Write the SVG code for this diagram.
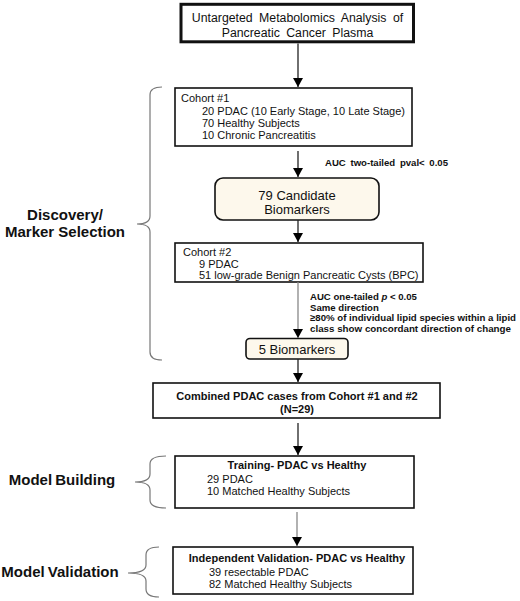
<svg xmlns="http://www.w3.org/2000/svg" width="520" height="601" viewBox="0 0 520 601">
<defs>
<marker id="ah" markerWidth="9" markerHeight="10" refX="9" refY="5" orient="auto" markerUnits="userSpaceOnUse">
<path d="M0,0 L9,5 L0,10 Z" fill="#000"/>
</marker>
<style>
text{font-family:"Liberation Sans",Arial,sans-serif;fill:#111}
.b{font-weight:bold}
.box{fill:#fff;stroke:#111;stroke-width:1.6}
.rbox{fill:#fdf8ec;stroke:#111;stroke-width:1.6}
.brace{fill:none;stroke:#777;stroke-width:1.2}
.con{stroke:#222;stroke-width:1.3;fill:none}
.gcon{stroke:#888;stroke-width:1.3;fill:none}
.t11{font-size:11px}
.lbl{font-size:15px;font-weight:bold;text-anchor:middle}
.crit{font-size:9.6px;font-weight:bold}
</style>
</defs>
<rect width="520" height="601" fill="#fff"/>

<g id="n-title">
<rect x="181" y="4.3" width="232.5" height="37.5" fill="#fff" stroke="#111" stroke-width="3"/>
<text x="297.5" y="22" font-size="12.3" text-anchor="middle" word-spacing="3">Untargeted Metabolomics Analysis of</text>
<text x="297.5" y="37" font-size="12.3" text-anchor="middle" word-spacing="3">Pancreatic Cancer Plasma</text>
</g>

<g id="n-cohort1">
<rect class="box" x="175" y="88" width="237" height="58"/>
<text class="t11" x="181" y="102">Cohort #1</text>
<text class="t11" x="202" y="115">20 PDAC (10 Early Stage, 10 Late Stage)</text>
<text class="t11" x="202" y="127">70 Healthy Subjects</text>
<text class="t11" x="202" y="139">10 Chronic Pancreatitis</text>
</g>

<g id="n-79">
<rect class="rbox" x="215" y="178" width="164" height="42" rx="8"/>
<text x="297" y="200" font-size="13" text-anchor="middle">79 Candidate</text>
<text x="297" y="214" font-size="13" text-anchor="middle">Biomarkers</text>
</g>

<g id="n-cohort2">
<rect class="box" x="175" y="243" width="248" height="39"/>
<text class="t11" x="183" y="256">Cohort #2</text>
<text class="t11" x="199" y="268">9 PDAC</text>
<text class="t11" x="199" y="279">51 low-grade Benign Pancreatic Cysts (BPC)</text>
</g>

<g id="n-5">
<rect class="rbox" x="246" y="338.5" width="102" height="20.5" rx="4"/>
<text x="297" y="354" font-size="13" text-anchor="middle">5 Biomarkers</text>
</g>

<g id="n-combined">
<rect class="box" x="153" y="383" width="287" height="35"/>
<text class="b" x="297" y="400" font-size="11" text-anchor="middle">Combined PDAC cases from Cohort #1 and #2</text>
<text class="b" x="297" y="413" font-size="11" text-anchor="middle">(N=29)</text>
</g>

<g id="n-training">
<rect class="box" x="175" y="456" width="239" height="52"/>
<text class="b" x="297" y="469" font-size="11" text-anchor="middle">Training- PDAC vs Healthy</text>
<text class="t11" x="207" y="483">29 PDAC</text>
<text class="t11" x="207" y="495">10 Matched Healthy Subjects</text>
</g>

<g id="n-validation">
<rect class="box" x="173" y="547" width="240" height="47"/>
<text class="b" x="297" y="562" font-size="11" text-anchor="middle">Independent Validation- PDAC vs Healthy</text>
<text class="t11" x="209" y="576">39 resectable PDAC</text>
<text class="t11" x="209" y="588">82 Matched Healthy Subjects</text>
</g>

<g id="connectors">
<line class="con" x1="298" y1="43.5" x2="298" y2="87" marker-end="url(#ah)"/>
<line class="con" x1="298" y1="151" x2="298" y2="177" marker-end="url(#ah)"/>
<line class="con" x1="298" y1="220" x2="298" y2="242" marker-end="url(#ah)"/>
<line class="gcon" x1="298" y1="282" x2="298" y2="338" marker-end="url(#ah)"/>
<line class="con" x1="298" y1="359" x2="298" y2="382" marker-end="url(#ah)"/>
<line class="con" x1="298" y1="423" x2="298" y2="455" marker-end="url(#ah)"/>
<line class="gcon" x1="297" y1="512" x2="297" y2="546" marker-end="url(#ah)"/>
</g>

<g id="edge-labels">
<text class="crit" x="325" y="166" font-size="9.3" word-spacing="2">AUC two-tailed pval&lt; 0.05</text>
<text class="crit" x="310" y="300">AUC one-tailed <tspan font-style="italic">p</tspan> &lt; 0.05</text>
<text class="crit" x="310" y="310.5">Same direction</text>
<text class="crit" x="310" y="321" textLength="206" lengthAdjust="spacingAndGlyphs">≥80% of individual lipid species within a lipid</text>
<text class="crit" x="310" y="331.5" textLength="201" lengthAdjust="spacingAndGlyphs">class show concordant direction of change</text>
</g>

<g id="braces">
<path class="brace" d="M162,87 Q150,87 150,95 L150,216 Q150,224 137,224 Q150,224 150,232 L150,352 Q150,360 162,360"/>
<path class="brace" d="M166,456 Q150,456 150,464 L150,474 Q150,482 135,482 Q150,482 150,490 L150,500 Q150,508 166,508"/>
<path class="brace" d="M159,547 Q146,547 146,555 L146,565 Q146,573 128,573 Q146,573 146,581 L146,589 Q146,597 159,597"/>
</g>

<g id="phase-labels">
<text class="lbl" x="65" y="220">Discovery/</text>
<text class="lbl" x="65" y="237">Marker Selection</text>
<text class="lbl" x="62" y="485" word-spacing="-1">Model Building</text>
<text class="lbl" x="60" y="577" word-spacing="-1">Model Validation</text>
</g>
</svg>
